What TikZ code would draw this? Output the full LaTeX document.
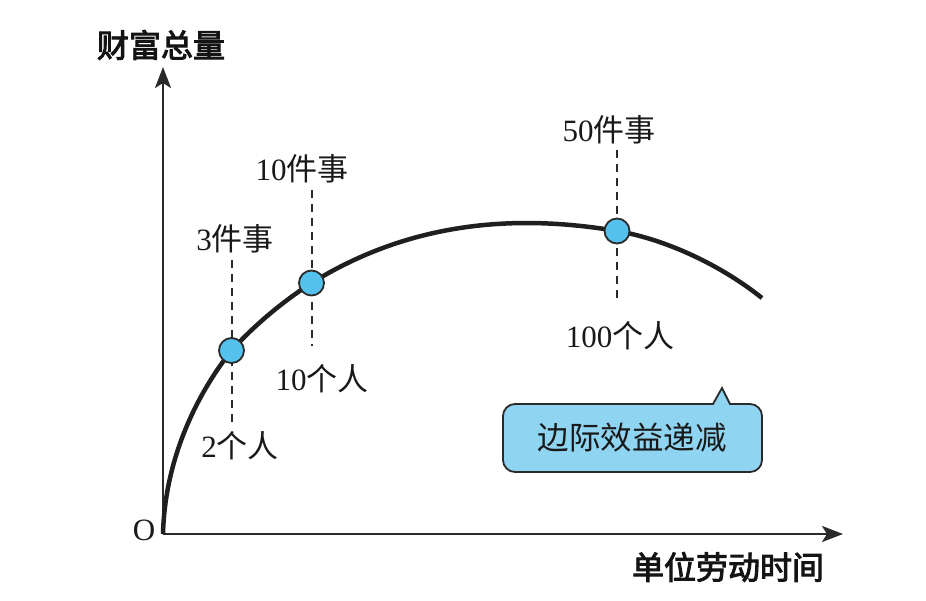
\documentclass[tikz,border=0pt]{standalone}
\usepackage{fontspec}
\setmainfont{Liberation Serif}
\newfontfamily\cjk{Noto Sans CJK SC}
\newfontfamily\cjkb[FakeBold=3]{Noto Sans CJK SC}
\usetikzlibrary{arrows.meta}
\definecolor{dotblue}{HTML}{55C2EE}
\definecolor{boxblue}{HTML}{8FD4F1}
\definecolor{edge}{HTML}{2A2A2A}
\tikzset{
  axis/.style={line width=2.5pt, draw=edge, -{Stealth[length=21pt,width=16pt,inset=5pt]}},
  curveline/.style={line width=4.5pt, draw=black!88},
  guide/.style={line width=2pt, draw=edge, dash pattern=on 8pt off 6pt},
  dot/.style={circle, fill=dotblue, draw=edge, line width=1.8pt, minimum size=25pt, inner sep=0pt},
  lbl/.style={font=\fontsize{31}{34}\selectfont, inner sep=0pt, text=black!90},
  title/.style={font=\fontsize{32}{36}\selectfont\cjkb, inner sep=0pt, text=black!92},
  callout/.style={fill=boxblue, draw=edge, line width=1.8pt},
}
\begin{document}
\begin{tikzpicture}[x=1pt,y=-1pt]
\useasboundingbox (0,0) rectangle (926,600);
% axes
\coordinate (O) at (163,534);
\coordinate (ytip) at (163,67);
\coordinate (xtip) at (843,534);
\draw[axis] (O) -- (ytip);
\draw[axis] (O) -- (xtip);
\node[lbl] (olabel) at (144,530) {O};
\node[title] (ytitle) at (161,45) {财富总量};
\node[title] (xtitle) at (728,567) {单位劳动时间};
% guide lines
\coordinate (g1t) at (231.5,260); \coordinate (g1b) at (231.5,423);
\coordinate (g2t) at (311.5,190); \coordinate (g2b) at (311.5,346);
\coordinate (g3t) at (616.5,150); \coordinate (g3b) at (616.5,302);
\draw[guide] (g1t) -- (g1b);
\draw[guide] (g2t) -- (g2b);
\draw[guide] (g3t) -- (g3b);
% dots positions
\coordinate (c1) at (231.5,350.5);
\coordinate (c2) at (311.5,283);
\coordinate (c3) at (617,231);
\coordinate (cend) at (762,298);
% curve
\draw[curveline] (O) .. controls (165,455) and (200,390) .. (c1)
  .. controls (256.5,323) and (284.5,300.5) .. (c2)
  .. controls (411.5,221) and (517,214) .. (c3)
  .. controls (667,239.5) and (722,266) .. (cend);
% dots
\node[dot] (p1) at (c1) {};
\node[dot] (p2) at (c2) {};
\node[dot] (p3) at (c3) {};
% labels
\node[lbl] (t1) at (235,239) {3\cjk 件事};
\node[lbl] (b1) at (240,446) {2\cjk 个人};
\node[lbl] (t2) at (302,169) {10\cjk 件事};
\node[lbl] (b2) at (322,379) {10\cjk 个人};
\node[lbl] (t3) at (609,130) {50\cjk 件事};
\node[lbl] (b3) at (620,336) {100\cjk 个人};
% callout
\draw[callout] (503,438) [rounded corners=12pt] -- (503,404) [sharp corners] -- (713,404) -- (722,388) -- (730,404) [rounded corners=12pt] -- (762,404) -- (762,472) -- (503,472) -- cycle;
\node[font=\fontsize{31.5}{35}\selectfont\cjk, inner sep=0pt, text=black!90] (ctext) at (632,438) {边际效益递减};
\end{tikzpicture}
\end{document}
